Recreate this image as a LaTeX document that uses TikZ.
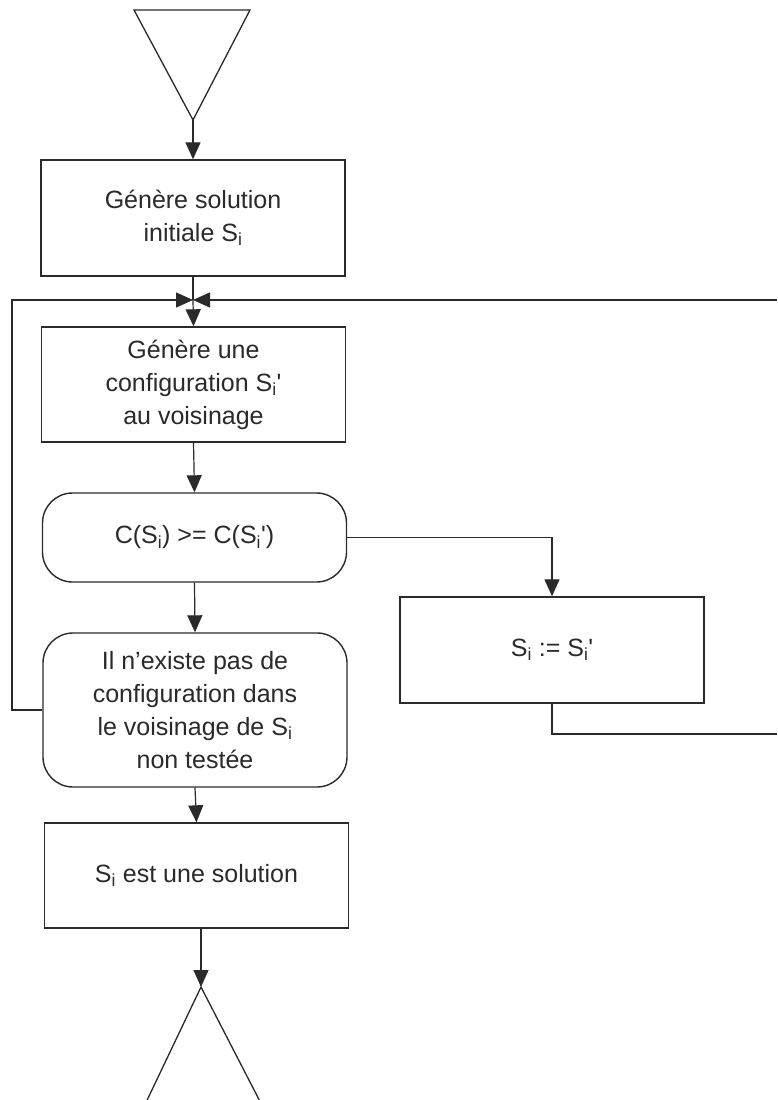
\documentclass[tikz,border=0pt]{standalone}
\usepackage{fontspec}
\setmainfont{Liberation Sans}
\usetikzlibrary{arrows.meta}
\definecolor{ink}{HTML}{2A2A2A}
\newcommand{\Si}{S\textsubscript{i}}
\newcommand{\qs}{\textquotesingle}
\begin{document}
\begin{tikzpicture}[x=1pt,y=-1pt,
  every node/.style={font=\fontsize{25}{33}\selectfont, text=ink, align=center, inner sep=0pt},
  boxrect/.style={draw=ink, line width=1.4pt, rectangle, minimum width=304pt},
  boxround/.style={boxrect, rounded corners=30pt},
  wire/.style={draw=ink, line width=1.2pt},
  arr/.style={wire, -{Triangle[width=15pt,length=17pt]}},
  tri/.style={draw=ink, line width=1.3pt, line join=miter}
]
\useasboundingbox[fill=white] (0,0) rectangle (777,1100);
\clip (0,0) rectangle (777,1100);

% start symbol
\coordinate (tA) at (134,10);
\coordinate (tB) at (250,10);
\coordinate (tC) at (193,120);
\draw[tri] (tA) -- (tB) -- (tC) -- cycle;

% main column of steps
\node[boxrect, minimum height=116pt] (init) at (193,218)
  {Génère solution\\initiale \Si};
\coordinate (jn) at (193,300);
\node[boxrect, minimum height=115pt] (gen) at (193.5,384.5)
  {Génère une\\configuration \Si\qs\\au voisinage};
\node[boxround, minimum height=89pt] (test) at (194.5,537.5)
  {C(\Si) >= C(\Si\qs)};
\node[boxround, minimum height=154pt] (stop) at (195,710)
  {Il n'existe pas de\\configuration dans\\le voisinage de \Si\\non testée};
\node[boxrect, minimum height=105pt] (sol) at (196.5,875.5)
  {\Si\ est une solution};

% side step
\node[boxrect, minimum height=106pt] (swap) at (552,650)
  {\Si\ := \Si\qs};

% end symbol
\coordinate (eA) at (201,987);
\coordinate (eB) at (140,1115);
\coordinate (eC) at (267,1115);
\draw[tri] (eB) -- (eA) -- (eC);

% loop-back rails
\coordinate (lrail) at (12,300);
\coordinate (rtop) at (777,300);
\coordinate (rbot) at (777,734);

% connectors
\draw[arr] (tC) -- (init.north);
\draw[wire] (init.south) -- (jn);
\draw[arr] (jn) -- (gen.north);
\draw[arr] (gen.south) -- (test.north);
\draw[arr] (test.south) -- (stop.north);
\draw[arr] (stop.south) -- (sol.north);
\draw[arr] (sol.south -| eA) -- (eA);
\draw[arr] (test.east) -| (swap.north);
\draw[wire] (swap.south) |- (rbot);
\draw[arr] (rtop) -- (jn);
\draw[arr] (stop.west) -| (lrail) -- (jn);
\end{tikzpicture}
\end{document}
